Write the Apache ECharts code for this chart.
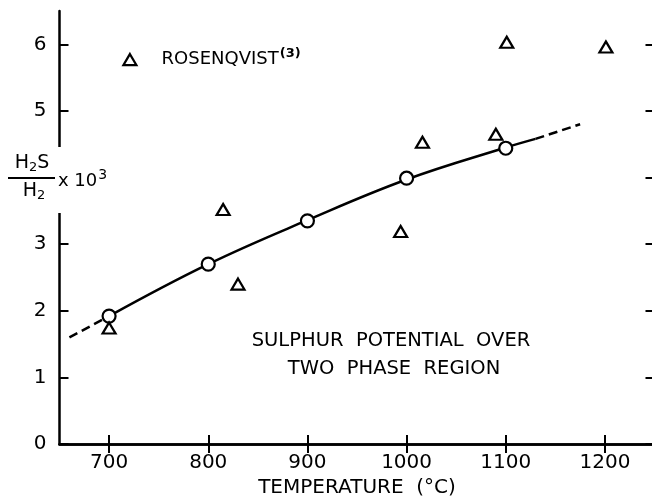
<!DOCTYPE html>
<html>
<head>
<meta charset="utf-8">
<script src="https://cdn.jsdelivr.net/npm/echarts@6/dist/echarts.min.js"></script>
<style>
  html, body { margin: 0; padding: 0; background: #fff; }
  #chart { width: 652px; height: 500px; }
</style>
</head>
<body>
<div id="chart"></div>
<script>
// 数据：温度 (°C) 与 H2S/H2 x 10^3
const xTicks = [700, 800, 900, 1000, 1100, 1200]
const yTicks = [0, 1, 2, 3, 4, 5, 6]
const yLabels = [0, 1, 2, 3, 5, 6]   // 4 被纵轴标题替代

// 本工作测得的点（圆圈）
const measuredT = [700, 800, 900, 1000, 1100]
const measuredR = [1.92, 2.70, 3.35, 3.99, 4.44]

// 拟合曲线：实线部分与两端虚线延长
const fitSolid = [[700, 1.92], [800, 2.70], [900, 3.36], [1000, 3.97], [1100, 4.45], [1130, 4.58]]
const fitLow = [[660, 1.60], [700, 1.92]]
const fitHigh = [[1130, 4.58], [1175, 4.80]]

// Rosenqvist 数据（三角）
const rosenT = [700, 815, 830, 994, 1016, 1090, 1101, 1201]
const rosenR = [1.74, 3.52, 2.40, 3.19, 4.53, 4.65, 6.03, 5.96]

// 图例三角的位置
const legendKey = [[721, 5.77]]

const FONT = 'DejaVu Sans'
const black = '#000'

function pairs(xs, ys) {
    return xs.map((v, i) => [v, ys[i]])
}

let myChart = echarts.init(document.getElementById('chart'))

let option = {
    animation: false,
    backgroundColor: '#fff',
    grid: { left: 59.5, right: -2.5, top: 11, bottom: 56, outerBoundsMode: 'none', containLabel: false },
    xAxis: [
        {
            type: 'value', position: 'bottom', min: 650, max: 1250,
            name: 'TEMPERATURE  (°C)', nameLocation: 'middle', nameGap: 33,
            nameTextStyle: { fontFamily: FONT, fontSize: 20, color: black },
            axisLine: { lineStyle: { color: black, width: 2.5 } },
            axisTick: { inside: true, length: 9, lineStyle: { color: black, width: 2 }, customValues: xTicks },
            axisLabel: { customValues: xTicks, formatter: v => String(v), fontFamily: FONT, fontSize: 20, color: black, margin: 9 },
            splitLine: { show: false }
        },
        {
            type: 'value', position: 'top', min: 650, max: 1250,
            axisLine: { lineStyle: { color: black, width: 2.5 } },
            axisTick: { inside: true, length: 9, lineStyle: { color: black, width: 2 }, customValues: xTicks },
            axisLabel: { show: false },
            splitLine: { show: false }
        }
    ],
    yAxis: [
        {
            type: 'value', position: 'left', min: 0, max: 6.5,
            axisLine: { lineStyle: { color: black, width: 2.5 } },
            axisTick: { inside: true, length: 9, lineStyle: { color: black, width: 2 }, customValues: yLabels },
            axisLabel: { customValues: yLabels, fontFamily: FONT, fontSize: 20, color: black, margin: 13 },
            splitLine: { show: false }
        },
        {
            type: 'value', position: 'right', min: 0, max: 6.5,
            axisLine: { show: false },
            axisTick: { show: true, inside: true, length: 9, lineStyle: { color: black, width: 2 }, customValues: yTicks },
            axisLabel: { show: false },
            splitLine: { show: false }
        }
    ],
    series: [
        {
            type: 'line', data: fitSolid, smooth: 0.4, symbol: 'none',
            lineStyle: { color: black, width: 2.5 }, z: 2
        },
        {
            type: 'line', data: fitLow, symbol: 'none',
            lineStyle: { color: black, width: 2.5, type: [9, 5] }, z: 2
        },
        {
            type: 'line', data: fitHigh, symbol: 'none',
            lineStyle: { color: black, width: 2.5, type: [9, 5] }, z: 2
        },
        {
            type: 'scatter', data: pairs(measuredT, measuredR),
            symbol: 'circle', symbolSize: 13,
            itemStyle: { color: '#fff', borderColor: black, borderWidth: 2.2, opacity: 1 }, z: 3
        },
        {
            type: 'scatter', data: pairs(rosenT, rosenR),
            symbol: 'triangle', symbolSize: [13, 11],
            itemStyle: { color: '#fff', borderColor: black, borderWidth: 2.2, opacity: 1 }, z: 3
        },
        {
            type: 'scatter', data: legendKey,
            symbol: 'triangle', symbolSize: [13, 11],
            itemStyle: { color: '#fff', borderColor: black, borderWidth: 2.2, opacity: 1 }, z: 3,
            label: {
                show: true, position: 'right', distance: 24,
                formatter: '{a|ROSENQVIST}{s|(3)}',
                rich: {
                    a: { fontFamily: FONT, fontSize: 18, color: black },
                    s: { fontFamily: FONT, fontSize: 13, color: black, fontWeight: 'bold', verticalAlign: 'top', padding: [0, 0, 12, 1] }
                }
            }
        }
    ],
    graphic: [
        // 纵轴在标题处断开
        { type: 'rect', z: 100, shape: { x: 55, y: 147, width: 10, height: 66 }, style: { fill: '#fff' } },
        {
            type: 'text', z: 101, x: 32, y: 163,
            style: {
                text: '{b|H}{u|2}{b|S}', align: 'center', verticalAlign: 'middle',
                rich: {
                    b: { fontFamily: FONT, fontSize: 19, color: black },
                    u: { fontFamily: FONT, fontSize: 13, color: black, verticalAlign: 'bottom', padding: [9, 0, 0, 0] }
                }
            }
        },
        { type: 'line', z: 101, shape: { x1: 8, y1: 178, x2: 55, y2: 178 }, style: { stroke: black, lineWidth: 2 } },
        {
            type: 'text', z: 101, x: 34, y: 191,
            style: {
                text: '{b|H}{u|2}', align: 'center', verticalAlign: 'middle',
                rich: {
                    b: { fontFamily: FONT, fontSize: 19, color: black },
                    u: { fontFamily: FONT, fontSize: 13, color: black, verticalAlign: 'bottom', padding: [9, 0, 0, 0] }
                }
            }
        },
        {
            type: 'text', z: 101, x: 58, y: 181,
            style: {
                text: '{b|x 10}{s|3}', align: 'left', verticalAlign: 'middle',
                rich: {
                    b: { fontFamily: FONT, fontSize: 18, color: black },
                    s: { fontFamily: FONT, fontSize: 14, color: black, verticalAlign: 'top', padding: [0, 0, 12, 1] }
                }
            }
        },
        {
            type: 'text', z: 101, x: 391, y: 341,
            style: { text: 'SULPHUR  POTENTIAL  OVER', align: 'center', verticalAlign: 'middle', fontFamily: FONT, fontSize: 19.5, fill: black }
        },
        {
            type: 'text', z: 101, x: 394, y: 369,
            style: { text: 'TWO  PHASE  REGION', align: 'center', verticalAlign: 'middle', fontFamily: FONT, fontSize: 19.5, fill: black }
        }
    ]
}

myChart.setOption(option)
</script>
</body>
</html>
